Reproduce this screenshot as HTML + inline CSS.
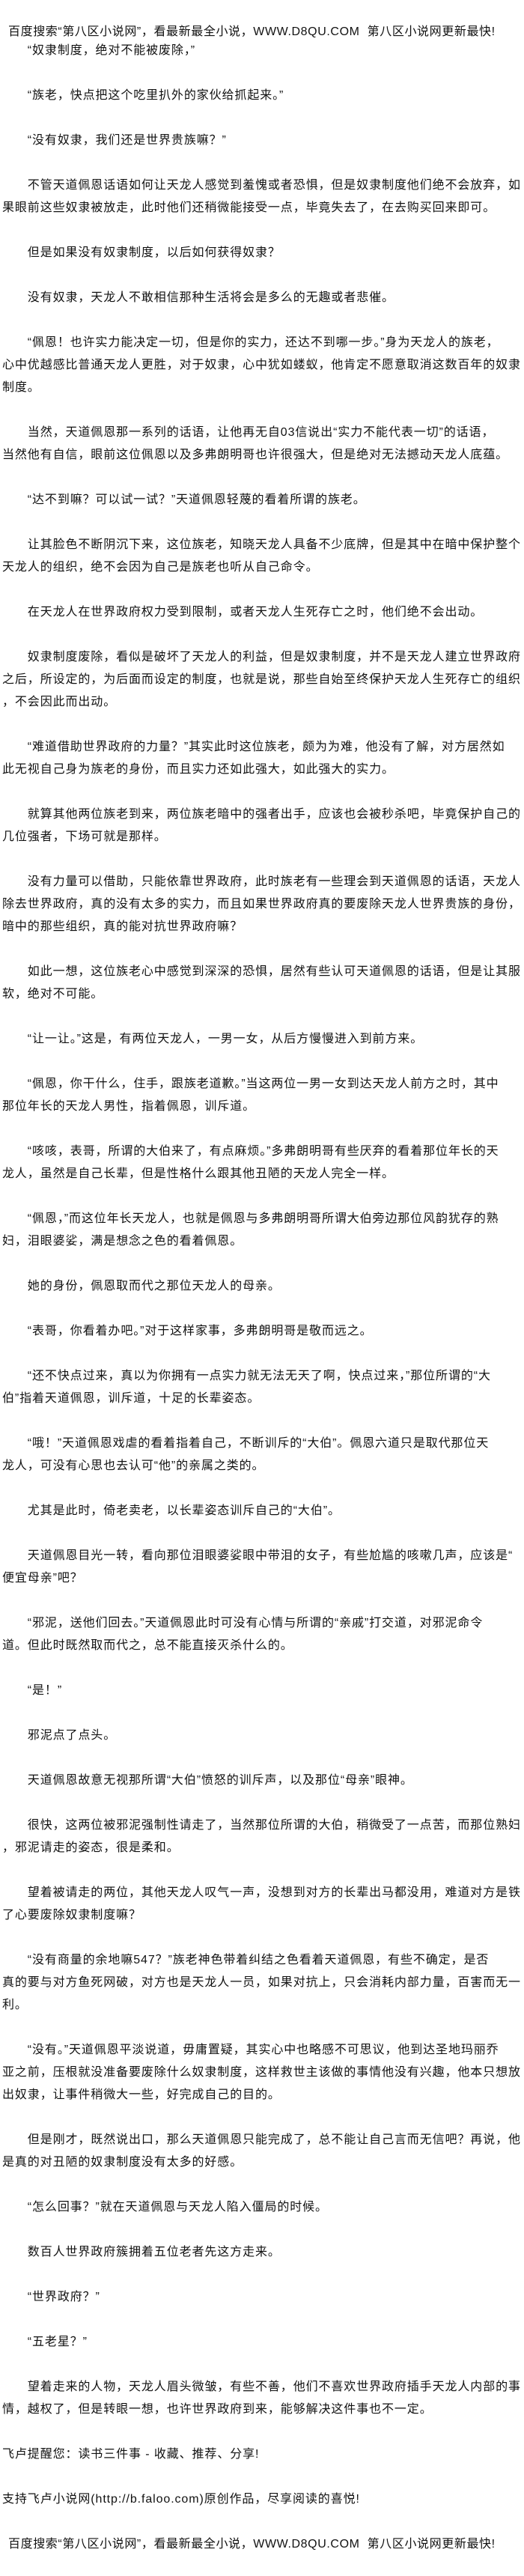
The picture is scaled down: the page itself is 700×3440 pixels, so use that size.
<!DOCTYPE html>
<html lang="zh">
<head>
<meta charset="utf-8">
<style>
html,body{margin:0;padding:0;background:#fff;}
body{width:700px;height:3440px;position:relative;overflow:hidden;
font-family:"Liberation Sans","Noto Sans CJK SC",sans-serif;color:#111;font-size:16px;}
.hd{position:absolute;left:11px;white-space:pre;line-height:30px;height:30px;letter-spacing:0.6px;}
#body{position:absolute;left:3px;top:53px;white-space:pre;line-height:30px;letter-spacing:0.9px;}
</style>
</head>
<body>
<div class="hd" style="top:28px">百度搜索“第八区小说网”，看最新最全小说，WWW.D8QU.COM  第八区小说网更新最快!</div>
<div id="body">　　“奴隶制度，绝对不能被废除，”

　　“族老，快点把这个吃里扒外的家伙给抓起来。”

　　“没有奴隶，我们还是世界贵族嘛？”

　　不管天道佩恩话语如何让天龙人感觉到羞愧或者恐惧，但是奴隶制度他们绝不会放弃，如
果眼前这些奴隶被放走，此时他们还稍微能接受一点，毕竟失去了，在去购买回来即可。

　　但是如果没有奴隶制度，以后如何获得奴隶？

　　没有奴隶，天龙人不敢相信那种生活将会是多么的无趣或者悲催。

　　“佩恩！也许实力能决定一切，但是你的实力，还达不到哪一步。”身为天龙人的族老，
心中优越感比普通天龙人更胜，对于奴隶，心中犹如蝼蚁，他肯定不愿意取消这数百年的奴隶
制度。

　　当然，天道佩恩那一系列的话语，让他再无自03信说出“实力不能代表一切”的话语，
当然他有自信，眼前这位佩恩以及多弗朗明哥也许很强大，但是绝对无法撼动天龙人底蕴。

　　“达不到嘛？可以试一试？”天道佩恩轻蔑的看着所谓的族老。

　　让其脸色不断阴沉下来，这位族老，知晓天龙人具备不少底牌，但是其中在暗中保护整个
天龙人的组织，绝不会因为自己是族老也听从自己命令。

　　在天龙人在世界政府权力受到限制，或者天龙人生死存亡之时，他们绝不会出动。

　　奴隶制度废除，看似是破坏了天龙人的利益，但是奴隶制度，并不是天龙人建立世界政府
之后，所设定的，为后面而设定的制度，也就是说，那些自始至终保护天龙人生死存亡的组织
，不会因此而出动。

　　“难道借助世界政府的力量？”其实此时这位族老，颇为为难，他没有了解，对方居然如
此无视自己身为族老的身份，而且实力还如此强大，如此强大的实力。

　　就算其他两位族老到来，两位族老暗中的强者出手，应该也会被秒杀吧，毕竟保护自己的
几位强者，下场可就是那样。

　　没有力量可以借助，只能依靠世界政府，此时族老有一些理会到天道佩恩的话语，天龙人
除去世界政府，真的没有太多的实力，而且如果世界政府真的要废除天龙人世界贵族的身份，
暗中的那些组织，真的能对抗世界政府嘛？

　　如此一想，这位族老心中感觉到深深的恐惧，居然有些认可天道佩恩的话语，但是让其服
软，绝对不可能。

　　“让一让。”这是，有两位天龙人，一男一女，从后方慢慢进入到前方来。

　　“佩恩，你干什么，住手，跟族老道歉。”当这两位一男一女到达天龙人前方之时，其中
那位年长的天龙人男性，指着佩恩，训斥道。

　　“咳咳，表哥，所谓的大伯来了，有点麻烦。”多弗朗明哥有些厌弃的看着那位年长的天
龙人，虽然是自己长辈，但是性格什么跟其他丑陋的天龙人完全一样。

　　“佩恩，”而这位年长天龙人，也就是佩恩与多弗朗明哥所谓大伯旁边那位风韵犹存的熟
妇，泪眼婆娑，满是想念之色的看着佩恩。

　　她的身份，佩恩取而代之那位天龙人的母亲。

　　“表哥，你看着办吧。”对于这样家事，多弗朗明哥是敬而远之。

　　“还不快点过来，真以为你拥有一点实力就无法无天了啊，快点过来，”那位所谓的“大
伯”指着天道佩恩，训斥道，十足的长辈姿态。

　　“哦！”天道佩恩戏虐的看着指着自己，不断训斥的“大伯”。佩恩六道只是取代那位天
龙人，可没有心思也去认可“他”的亲属之类的。

　　尤其是此时，倚老卖老，以长辈姿态训斥自己的“大伯”。

　　天道佩恩目光一转，看向那位泪眼婆娑眼中带泪的女子，有些尬尴的咳嗽几声，应该是“
便宜母亲”吧？

　　“邪泥，送他们回去。”天道佩恩此时可没有心情与所谓的“亲戚”打交道，对邪泥命令
道。但此时既然取而代之，总不能直接灭杀什么的。

　　“是！”

　　邪泥点了点头。

　　天道佩恩故意无视那所谓“大伯”愤怒的训斥声，以及那位“母亲”眼神。

　　很快，这两位被邪泥强制性请走了，当然那位所谓的大伯，稍微受了一点苦，而那位熟妇
，邪泥请走的姿态，很是柔和。

　　望着被请走的两位，其他天龙人叹气一声，没想到对方的长辈出马都没用，难道对方是铁
了心要废除奴隶制度嘛？

　　“没有商量的余地嘛547？”族老神色带着纠结之色看着天道佩恩，有些不确定，是否
真的要与对方鱼死网破，对方也是天龙人一员，如果对抗上，只会消耗内部力量，百害而无一
利。

　　“没有。”天道佩恩平淡说道，毋庸置疑，其实心中也略感不可思议，他到达圣地玛丽乔
亚之前，压根就没准备要废除什么奴隶制度，这样救世主该做的事情他没有兴趣，他本只想放
出奴隶，让事件稍微大一些，好完成自己的目的。

　　但是刚才，既然说出口，那么天道佩恩只能完成了，总不能让自己言而无信吧？再说，他
是真的对丑陋的奴隶制度没有太多的好感。

　　“怎么回事？”就在天道佩恩与天龙人陷入僵局的时候。

　　数百人世界政府簇拥着五位老者先这方走来。

　　“世界政府？”

　　“五老星？”

　　望着走来的人物，天龙人眉头微皱，有些不善，他们不喜欢世界政府插手天龙人内部的事
情，越权了，但是转眼一想，也许世界政府到来，能够解决这件事也不一定。

飞卢提醒您：读书三件事 - 收藏、推荐、分享!

支持飞卢小说网(http://b.faloo.com)原创作品，尽享阅读的喜悦!</div>
<div class="hd" style="top:3383px">百度搜索“第八区小说网”，看最新最全小说，WWW.D8QU.COM  第八区小说网更新最快!</div>
</body>
</html>
